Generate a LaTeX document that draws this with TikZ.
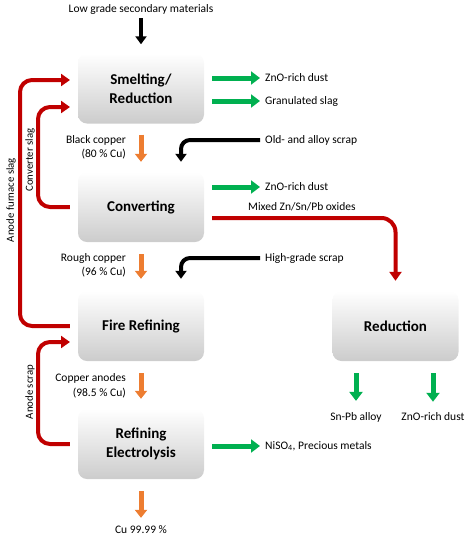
\documentclass[tikz,border=0pt]{standalone}
\usepackage{fontspec}
\setmainfont{Carlito}
\usetikzlibrary{arrows.meta, positioning}
\definecolor{slagred}{RGB}{192,0,0}
\definecolor{prodgreen}{RGB}{0,176,80}
\definecolor{cuorange}{RGB}{237,125,49}
\tikzset{
	box/.style={rounded corners=9pt, minimum width=126pt, minimum height=70pt, top color=white, bottom color=black!20, align=center, font=\fontsize{15}{19}\selectfont\bfseries},
	lbl/.style={font=\fontsize{11.5}{14.5}\selectfont, inner sep=1pt},
	sidelbl/.style={font=\fontsize{10.8}{13}\selectfont, inner sep=1pt, rotate=90},
	greenarr/.style={prodgreen, line width=5pt, -{Triangle[length=9pt,width=13pt]}},
	orangearr/.style={cuorange, line width=5pt, -{Triangle[length=8pt,width=12pt]}},
	blackarr/.style={black, line width=4pt, -{Triangle[length=8pt,width=11pt]}},
	redarr/.style={slagred, line width=4pt, -{Triangle[length=9pt,width=12pt]}}
}
\begin{document}
\begin{tikzpicture}[x=1pt, y=-1pt]
	\useasboundingbox (0,0) rectangle (474,542);
	% process boxes
	\node[box] (smelt) at (141,88.5) {Smelting/\\Reduction};
	\node[box] (conv) at (141,207) {Converting};
	\node[box] (fire) at (141,326) {Fire Refining};
	\node[box] (elec) at (141,444) {Refining\\Electrolysis};
	\node[box] (reduc) at (395.5,326) {Reduction};
	% labels
	\node[lbl] (low) at (141,9) {Low grade secondary materials};
	\node[lbl, anchor=west] (zno1) at (264,78) {ZnO-rich dust};
	\node[lbl, anchor=west] (gslag) at (264,101) {Granulated slag};
	\node[lbl, anchor=west] (oldscrap) at (264,140) {Old- and alloy scrap};
	\node[lbl, anchor=west] (zno2) at (264,187) {ZnO-rich dust};
	\node[lbl, anchor=west] (mixed) at (247,207) {Mixed Zn/Sn/Pb oxides};
	\node[lbl, anchor=west] (hgscrap) at (264,258) {High-grade scrap};
	\node[lbl, anchor=west] (niso) at (264,446) {NiSO\textsubscript{4}, Precious metals};
	\node[lbl] (snpb) at (356,417) {Sn-Pb alloy};
	\node[lbl] (zno3) at (433,417) {ZnO-rich dust};
	\node[lbl] (cu) at (141,530) {Cu 99.99 \%};
	\node[lbl, align=right, anchor=east] (black) at (127,147.5) {Black copper\\(80 \% Cu)};
	\node[lbl, align=right, anchor=east] (rough) at (127,265.5) {Rough copper\\(96 \% Cu)};
	\node[lbl, align=right, anchor=east] (anodes) at (127,386) {Copper anodes\\(98.5 \% Cu)};
	\node[sidelbl] (afslag) at (11,200) {Anode furnace slag};
	\node[sidelbl] (cslag) at (30,160) {Converter slag};
	\node[sidelbl] (ascrap) at (30,392) {Anode scrap};
	\coordinate (in1) at (70,80);
	\coordinate (in2) at (70,107);
	\coordinate (in3) at (70,342);
	% main copper line
	\draw[blackarr] (low.south) ++(0,-3pt) -- ([yshift=9pt]smelt.north);
	\draw[orangearr] ([yshift=-11pt]smelt.south) -- ([yshift=10pt]conv.north);
	\draw[orangearr] ([yshift=-12pt]conv.south) -- ([yshift=12pt]fire.north);
	\draw[orangearr] ([yshift=-12pt]fire.south) -- ([yshift=10pt]elec.north);
	\draw[orangearr] ([yshift=-12pt]elec.south) -- ([yshift=7pt]cu.north);
	% products
	\draw[greenarr] ([xshift=8pt]smelt.east |- zno1) -- ([xshift=-4pt]zno1.west);
	\draw[greenarr] ([xshift=8pt]smelt.east |- gslag) -- ([xshift=-4pt]gslag.west);
	\draw[greenarr] ([xshift=8pt]conv.east |- zno2) -- ([xshift=-4pt]zno2.west);
	\draw[greenarr] ([xshift=8pt]elec.east |- niso) -- ([xshift=-4pt]niso.west);
	\draw[greenarr] ([xshift=-39.5pt,yshift=-12pt]reduc.south) -- ([yshift=10pt]snpb.north);
	\draw[greenarr] ([xshift=37.5pt,yshift=-12pt]reduc.south) -- ([yshift=10pt]zno3.north);
	% scrap inputs
	\draw[blackarr, rounded corners=9pt] ([xshift=-4pt]oldscrap.west) -| ([xshift=40pt,yshift=10pt]conv.north);
	\draw[blackarr, rounded corners=9pt] ([xshift=-4pt]hgscrap.west) -| ([xshift=40pt,yshift=12pt]fire.north);
	% recycled slags
	\draw[redarr, rounded corners=14pt] ([xshift=8pt,yshift=-11pt]conv.east) -| ([yshift=10pt]reduc.north);
	\draw[redarr, rounded corners=12pt] ([xshift=-8pt]fire.west) -- (20,326) -- (20,80) -- (in1);
	\draw[redarr, rounded corners=12pt] ([xshift=-8pt]conv.west) -- (38,207) -- (38,107) -- (in2);
	\draw[redarr, rounded corners=12pt] ([xshift=-8pt]elec.west) -- (38,444) -- (38,342) -- (in3);
\end{tikzpicture}
\end{document}
